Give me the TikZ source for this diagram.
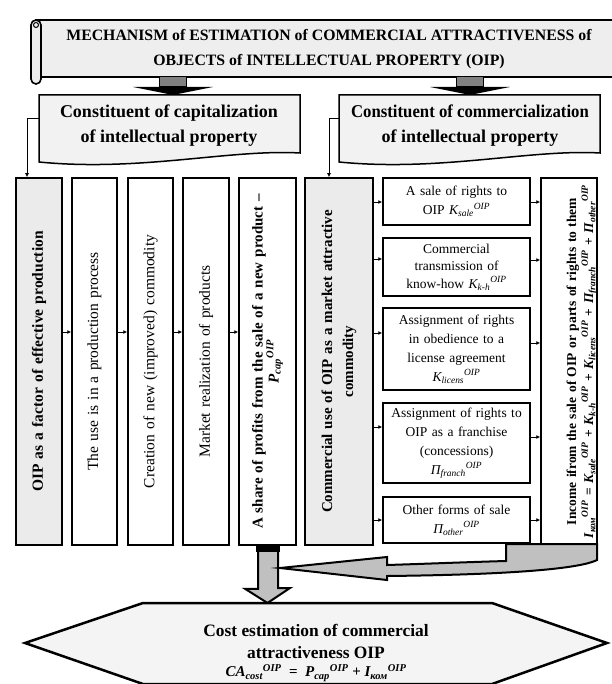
\documentclass[tikz,border=0pt]{standalone}
\usepackage{fontspec}
\setmainfont{Liberation Serif}
\usetikzlibrary{arrows.meta}
\definecolor{bangray}{HTML}{EEEEEE}
\definecolor{docgray}{HTML}{F2F2F2}
\definecolor{colgray}{HTML}{EBEBEB}
\definecolor{hexgray}{HTML}{F4F4F4}
\definecolor{silv}{HTML}{C0C0C0}
\definecolor{dgray}{HTML}{808080}
\newcommand{\sym}[3]{\textit{#1\textsubscript{#2}\textsuperscript{#3}}}
\begin{document}
\begin{tikzpicture}[x=1pt,y=-1pt,
  frame/.style={draw, line width=1.5pt, inner sep=0pt, minimum height=367pt},
  vtext/.style={rotate=90, align=center, text width=360pt, inner sep=0pt},
  midbox/.style={draw, line width=1.5pt, minimum width=147pt, inner sep=0pt, align=center, text width=145pt, font=\fontsize{13.5}{19}\selectfont},
  arr/.style={-{Latex[length=4pt,width=4pt]}, line width=0.8pt},
  blockarr/.style={draw, line width=2pt, fill=silv, line join=miter},
  docbox/.style={draw, line width=1.5pt, fill=docgray}
]
\useasboundingbox (0,0) rectangle (611,684);

% ---------- title banner ----------
\draw[line width=1.6pt, fill=bangray] (36,20) -- (625,20) -- (625,77) -- (36,77) -- cycle;
\draw[line width=1.6pt, fill=bangray, rounded corners=5pt] (31,20) rectangle (41,84);
\draw[line width=1pt] (36,25) circle (2.5pt);
\node[font=\fontsize{15.8}{25}\selectfont\bfseries, align=center] (title) at (329,49)
  {MECHANISM of ESTIMATION of COMMERCIAL ATTRACTIVENESS of\\OBJECTS of INTELLECTUAL PROPERTY (OIP)};

% ---------- arrows from the banner ----------
\foreach \cx in {173,470}{
  \fill[black] (\cx-40,87) -- (\cx+40,87) -- (\cx,95) -- cycle;
  \draw[line width=1pt, fill=dgray] (\cx-13.5,77) rectangle (\cx+13.5,87);
}

% ---------- constituent boxes ----------
\draw[docbox] (39,95) -- (300,95) -- (300,153) .. controls (230,149) and (140,172) .. (39,162) -- cycle;
\node[font=\fontsize{18}{25}\selectfont\bfseries, align=center] (capt) at (169,126)
  {Constituent of capitalization\\of intellectual property};
\draw[docbox] (339,95) -- (600,95) -- (600,153) .. controls (530,149) and (440,172) .. (339,162) -- cycle;
\node[font=\fontsize{18}{25}\selectfont\bfseries, align=center] (comt) at (470,126)
  {\scalebox{0.93}[1]{Constituent of commercialization}\\of intellectual property};
\coordinate (capL) at (39,118);
\coordinate (comL) at (339,118);

% ---------- columns ----------
\node[frame, fill=colgray, minimum width=46pt] (c1) at (39,361.5) {};
\node[frame, minimum width=45pt] (c2) at (94.5,361.5) {};
\node[frame, minimum width=45pt] (c3) at (150.5,361.5) {};
\node[frame, minimum width=46pt] (c4) at (206,361.5) {};
\node[frame, minimum width=57pt] (c5) at (267.5,361.5) {};
\node[frame, fill=colgray, minimum width=68pt] (c6) at (339,361.5) {};
\node[frame, minimum width=56pt] (r) at (569,361.5) {};

\node[vtext, font=\fontsize{15.5}{17}\selectfont\bfseries] (c1t) at (c1) {OIP as a factor of effective production};
\node[vtext, font=\fontsize{15.5}{17}\selectfont] (c2t) at (c2) {The use is in a production process};
\node[vtext, font=\fontsize{15.5}{17}\selectfont] (c3t) at (c3) {Creation of new (improved) commodity};
\node[vtext, font=\fontsize{15.5}{17}\selectfont] (c4t) at (c4) {Market realization of products};
\node[vtext, font=\fontsize{15}{16}\selectfont\bfseries] (c5t) at (c5) {A share of profits from the sale of a new product --\\\sym{P}{cap}{OIP}};
\node[vtext, font=\fontsize{15}{21}\selectfont\bfseries] (c6t) at (c6) {Commercial use of OIP as a market attractive\\commodity};
\begin{scope}
  \clip (541.8,179) rectangle (596.2,544);
  \node[vtext, text width=380pt, font=\fontsize{13.5}{17}\selectfont\bfseries] (rt) at (582,361.5)
    {Income ifrom the sale of OIP or parts of rights to them\\
     \sym{I}{ком}{OIP} = \sym{K}{sale}{OIP} + \sym{K}{k-h}{OIP} + \sym{K}{licens}{OIP} + \sym{П}{franch}{OIP} + \sym{П}{other}{OIP}};
\end{scope}

% ---------- middle boxes ----------
\node[midbox, minimum height=47pt] (m1) at (456.5,201.5) {A sale of rights to\\OIP \sym{K}{sale}{OIP}};
\node[midbox, minimum height=58pt, font=\fontsize{13.5}{17.5}\selectfont] (m2) at (456.5,267) {Commercial\\transmission of\\know-how \sym{K}{k-h}{OIP}};
\node[midbox, minimum height=82pt] (m3) at (456.5,349) {Assignment of rights\\in obedience to a\\license agreement\\\sym{K}{licens}{OIP}};
\node[midbox, minimum height=80pt] (m4) at (456.5,443) {Assignment of rights to\\OIP as a franchise\\(concessions)\\\sym{П}{franch}{OIP}};
\node[midbox, minimum height=46pt] (m5) at (456.5,520) {Other forms of sale\\\sym{П}{other}{OIP}};

% ---------- connectors ----------
\draw[arr] (capL) -| ([xshift=-12pt]c1.north);
\draw[arr] (comL) -| ([xshift=-10pt]c6.north);
\coordinate (ay) at (0,332);
\draw[arr] (c1.east |- ay) -- (c2.west |- ay);
\draw[arr] (c2.east |- ay) -- (c3.west |- ay);
\draw[arr] (c3.east |- ay) -- (c4.west |- ay);
\draw[arr] (c4.east |- ay) -- (c5.west |- ay);
\foreach \m/\ya/\yb in {m1/202/202, m2/259/260, m3/333/343, m4/427/437, m5/520/520}{
  \draw[arr] (c6.east |- 0,\ya) -- (\m.west |- 0,\ya);
  \draw[arr] (\m.east |- 0,\yb) -- (r.west |- 0,\yb);
}

% ---------- bottom block arrows ----------
\coordinate (dtop) at (c5.south);
\draw[blockarr] ([xshift=-9.5pt]dtop) -- ++(0,43) -- ++(-13,0) -- (267.5,603) -- (290,588) -- ++(-12,0) -- ([xshift=10.5pt]dtop) -- cycle;
\fill[black] ([xshift=-11.5pt]dtop) rectangle ([xshift=12.5pt,yshift=-6pt]dtop);
\draw[blockarr] (506,544) -- (506,561) .. controls (470,562) and (420,564) .. (387,565) -- (387,557) -- (280,568) -- (387,580) -- (387,576)
  .. controls (480,575) and (575,571) .. (597,560) -- (597,544) -- cycle;

% ---------- hexagon ----------
\draw[line width=2.5pt, fill=hexgray, line join=miter] (143,603) -- (492,603) -- (607,643) -- (492,684) -- (143,684) -- (25,643) -- cycle;
\node[align=center, font=\fontsize{17.4}{22}\selectfont\bfseries] (hex) at (316,653)
  {Cost estimation of commercial\\attractiveness OIP\\[-4pt]
   {\fontsize{15}{17}\selectfont \sym{CA}{cost}{OIP}\ \ =\ \ \sym{P}{cap}{OIP} + \sym{I}{ком}{OIP}}};
\end{tikzpicture}
\end{document}
